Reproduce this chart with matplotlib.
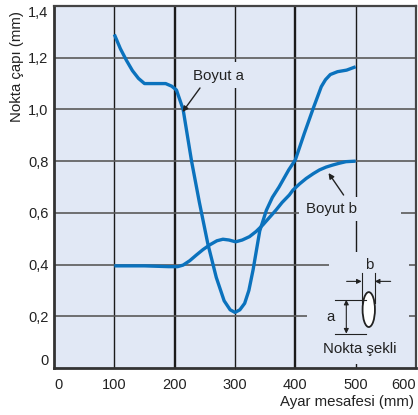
import matplotlib
matplotlib.use('Agg')
import matplotlib.pyplot as plt
from matplotlib.patches import Rectangle, Ellipse

plt.rcParams['font.family'] = ['Liberation Sans', 'DejaVu Sans']

# Boyut a
a_x = [100, 110, 120, 130, 140, 150, 170, 185, 195, 203, 214, 228, 241, 255, 269, 282,
       292, 300, 308, 316, 323, 330, 341, 352, 362, 373, 389, 400, 415, 429, 443, 450,
       458, 470, 485, 500]
a_y = [1.29, 1.235, 1.19, 1.15, 1.12, 1.10, 1.10, 1.10, 1.09, 1.075, 1.0, 0.80, 0.64,
       0.48, 0.35, 0.26, 0.225, 0.215, 0.225, 0.25, 0.30, 0.38, 0.53, 0.61, 0.66, 0.70,
       0.766, 0.805, 0.908, 1.0, 1.088, 1.115, 1.135, 1.146, 1.152, 1.165]

# Boyut b
b_x = [100, 150, 190, 205, 214, 225, 236, 247, 258, 270, 280, 290, 301, 312, 324, 335,
       346, 357, 368, 378, 390, 396, 407, 418, 430, 440, 451, 462, 473, 484, 500]
b_y = [0.395, 0.395, 0.392, 0.392, 0.398, 0.415, 0.437, 0.458, 0.476, 0.492, 0.498,
       0.495, 0.488, 0.495, 0.508, 0.528, 0.553, 0.582, 0.611, 0.64, 0.669, 0.688,
       0.712, 0.733, 0.752, 0.766, 0.777, 0.785, 0.792, 0.798, 0.80]

x_ticks = [0, 100, 200, 300, 400, 500, 600]
y_ticks = [0, 0.2, 0.4, 0.6, 0.8, 1.0, 1.2, 1.4]
y_labels = ['0', '0,2', '0,4', '0,6', '0,8', '1,0', '1,2', '1,4']

bg = '#e1e8f5'
blue = '#0b72bd'

fig = plt.figure(figsize=(4.18, 4.15), dpi=100)
ax = fig.add_axes([54 / 418, 47 / 415, 362 / 418, 362 / 415])
ax.set_facecolor(bg)
ax.set_xlim(0, 600)
ax.set_ylim(0, 1.4)
ax.set_xticks(x_ticks)
ax.set_yticks(y_ticks)
ax.set_yticklabels(y_labels)
ax.tick_params(length=0, labelsize=10.5, colors='#222222')
ax.tick_params(axis='x', pad=7)
ax.tick_params(axis='y', pad=4)
xl = ax.get_xticklabels()
xl[0].set_ha('left')
xl[-1].set_ha('right')
yl = ax.get_yticklabels()
yl[0].set_va('bottom')
yl[-1].set_va('top')

# grid
for xv in x_ticks[1:-1]:
    lw = 1.7 if xv in (200, 400) else 1.0
    ax.axvline(xv, color='#1a1a1a', lw=lw, zorder=0.5)
for yv in y_ticks[1:-1]:
    ax.axhline(yv, color='#5a5a5a', lw=1.2, zorder=0.5)

for s in ['left', 'bottom']:
    ax.spines[s].set_linewidth(2.0)
    ax.spines[s].set_color('#333333')
for s in ['top', 'right']:
    ax.spines[s].set_linewidth(1.6)
    ax.spines[s].set_color('#444444')

# background patches hiding the grid behind labels
ax.add_patch(Rectangle((406.7, 0.569), 168, 0.092, facecolor=bg, edgecolor='none', zorder=1))
ax.add_patch(Rectangle((455, 0.263), 133, 0.186, facecolor=bg, edgecolor='none', zorder=1))
ax.add_patch(Rectangle((420, 0.015), 168, 0.25, facecolor=bg, edgecolor='none', zorder=1))
ax.add_patch(Rectangle((225, 1.083), 95, 0.1, facecolor=bg, edgecolor='none', zorder=1))

ax.plot(a_x, a_y, color=blue, lw=2.4, solid_joinstyle='round', solid_capstyle='butt', zorder=3)
ax.plot(b_x, b_y, color=blue, lw=2.4, solid_joinstyle='round', solid_capstyle='butt', zorder=3)

# labels with arrows
ax.text(272, 1.13, 'Boyut a', ha='center', va='center', fontsize=10.8, color='#222222', zorder=4)
ax.annotate('', xy=(213, 0.99), xytext=(242, 1.083),
            arrowprops=dict(arrowstyle='-|>', color='#222222', lw=1.0,
                            mutation_scale=8, shrinkA=0, shrinkB=0), zorder=4)
ax.text(460, 0.615, 'Boyut b', ha='center', va='center', fontsize=10.8, color='#222222', zorder=4)
ax.annotate('', xy=(455, 0.754), xytext=(480, 0.669),
            arrowprops=dict(arrowstyle='-|>', color='#222222', lw=1.0,
                            mutation_scale=8, shrinkA=0, shrinkB=0), zorder=4)

# spot shape inset
k = '#222222'
ax.add_patch(Ellipse((521.7, 0.226), 20.5, 0.135, facecolor='white', edgecolor=k, lw=1.3, zorder=4))
ax.text(521.7, 0.40, 'b', ha='center', va='center', fontsize=10.8, color=k, zorder=4)
ax.plot([510, 510], [0.251, 0.369], color=k, lw=0.8, zorder=4)
ax.plot([531.7, 531.7], [0.251, 0.369], color=k, lw=0.8, zorder=4)
ax.annotate('', xy=(510, 0.335), xytext=(485, 0.335),
            arrowprops=dict(arrowstyle='-|>', color=k, lw=0.8, mutation_scale=7,
                            shrinkA=0, shrinkB=0), zorder=4)
ax.annotate('', xy=(531.7, 0.335), xytext=(558, 0.335),
            arrowprops=dict(arrowstyle='-|>', color=k, lw=0.8, mutation_scale=7,
                            shrinkA=0, shrinkB=0), zorder=4)
ax.plot([465, 516.7], [0.264, 0.264], color=k, lw=0.8, zorder=4)
ax.plot([465, 516.7], [0.133, 0.133], color=k, lw=0.8, zorder=4)
ax.annotate('', xy=(484.5, 0.133), xytext=(484.5, 0.264),
            arrowprops=dict(arrowstyle='<|-|>', color=k, lw=0.8, mutation_scale=7,
                            shrinkA=0, shrinkB=0), zorder=4)
ax.text(458, 0.197, 'a', ha='center', va='center', fontsize=10.8, color=k, zorder=4)
ax.text(507, 0.0735, 'Nokta şekli', ha='center', va='center', fontsize=10.8, color=k, zorder=4)

ax.text(-0.102, 0.834, 'Nokta çapı (mm)', transform=ax.transAxes, rotation=90,
        ha='center', va='center', fontsize=10.8, color='#222222')
ax.text(0.994, -0.093, 'Ayar mesafesi (mm)', transform=ax.transAxes,
        ha='right', va='center', fontsize=10.8, color='#222222')

plt.savefig('out.png', dpi=100)
